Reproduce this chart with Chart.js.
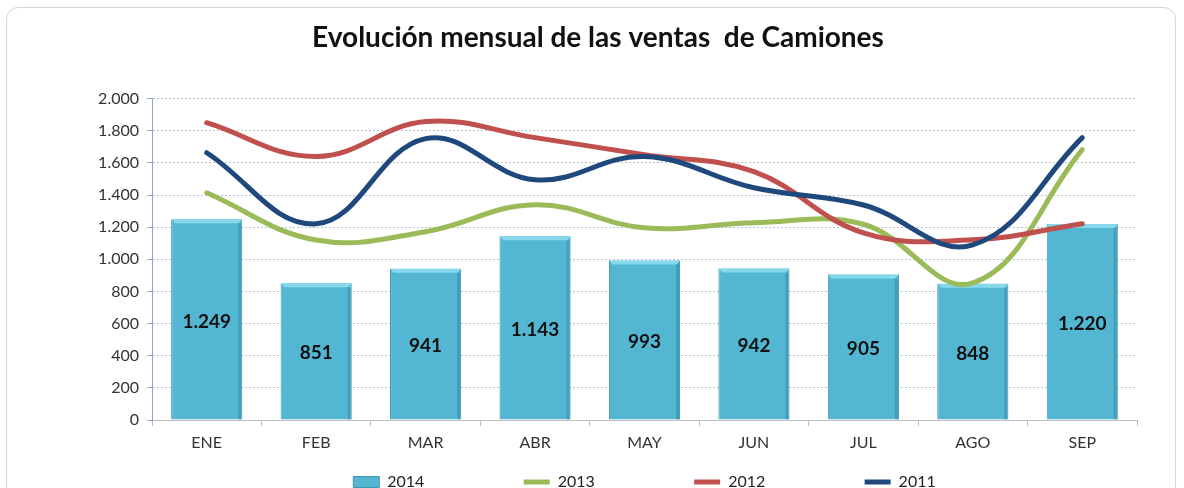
<!DOCTYPE html>
<html>
<head>
<meta charset="utf-8">
<script src="https://cdn.jsdelivr.net/npm/chart.js"></script>
<style>
  html, body { margin: 0; padding: 0; background: #fff; overflow: hidden; }
  #card {
    position: absolute; left: 6px; top: 7px; width: 1170px; height: 540px;
    border: 1px solid #d6d6d6; border-radius: 12px; box-sizing: border-box;
  }
  #wrap { position: absolute; left: 0; top: 0; width: 1184px; height: 500px; }
</style>
</head>
<body>
<div id="card"></div>
<div id="wrap"><canvas id="chart"></canvas></div>
<script>
const months = ["ENE", "FEB", "MAR", "ABR", "MAY", "JUN", "JUL", "AGO", "SEP"];
const ventas2014 = [1249, 851, 941, 1143, 993, 942, 905, 848, 1220];
const ventas2013 = [1414, 1120, 1172, 1340, 1196, 1227, 1218, 853, 1682];
const ventas2012 = [1850, 1640, 1857, 1757, 1651, 1545, 1165, 1121, 1221];
const ventas2011 = [1663, 1221, 1751, 1495, 1639, 1445, 1338, 1090, 1757];
const yTicks = [0, 200, 400, 600, 800, 1000, 1200, 1400, 1600, 1800, 2000];

const FONT = "Lato, 'Open Sans', sans-serif";

function miles(v) {
  return String(v).replace(/\B(?=(\d{3})+(?!\d))/g, ".");
}

// light bevel on top of each bar, drawn before the lines
const barBevel = {
  id: "barBevel",
  afterDatasetDraw(chart, args) {
    if (args.index !== 0) return;
    const ctx = chart.ctx;
    ctx.save();
    args.meta.data.forEach(bar => {
      const half = bar.width / 2;
      ctx.fillStyle = "#86d9ec";
      ctx.beginPath();
      ctx.moveTo(bar.x - half, bar.y);
      ctx.lineTo(bar.x + half, bar.y);
      ctx.lineTo(bar.x + half - 4, bar.y + 4);
      ctx.lineTo(bar.x - half + 4, bar.y + 4);
      ctx.closePath();
      ctx.fill();
      ctx.fillStyle = "rgba(40,110,135,0.35)";
      ctx.fillRect(bar.x + half - 4, bar.y + 4, 3, bar.base - bar.y - 4);
    });
    ctx.restore();
  }
};

// numbers inside the bars
const barLabels = {
  id: "barLabels",
  afterDatasetsDraw(chart) {
    const meta = chart.getDatasetMeta(0);
    const ctx = chart.ctx;
    ctx.save();
    ctx.font = "bold 19px " + FONT;
    ctx.fillStyle = "#111";
    ctx.textAlign = "center";
    ctx.textBaseline = "middle";
    meta.data.forEach((bar, i) => {
      const mid = (bar.y + bar.base) / 2;
      ctx.fillText(miles(ventas2014[i]), bar.x, mid + 2);
    });
    ctx.restore();
  }
};

// legend sits centred under the plot, not the canvas
const legendShift = {
  id: "legendShift",
  afterLayout(chart) {
    const lg = chart.legend;
    const d = (chart.chartArea.left + chart.chartArea.right) / 2 - (lg.left + lg.right) / 2;
    lg.left += d;
    lg.right += d;
  }
};

function lineSet(label, data, color, order) {
  return {
    type: "line",
    label: label,
    data: data,
    borderColor: color,
    backgroundColor: color,
    borderWidth: 5,
    borderCapStyle: "round",
    tension: 0.4,
    pointRadius: 0,
    pointStyle: "line",
    fill: false,
    order: order
  };
}

const pad = "\u2003\u2003\u2003\u2003\u2003\u2003\u2003\u2004";

new Chart(document.getElementById("chart"), {
  type: "bar",
  data: {
    labels: months,
    datasets: [
      {
        label: "2014",
        data: ventas2014,
        backgroundColor: "#53B7D3",
        borderColor: "#3F96AE",
        borderWidth: 1,
        barPercentage: 0.65,
        categoryPercentage: 1,
        pointStyle: "rect",
        order: 4
      },
      lineSet("2013", ventas2013, "#9BBB59", 3),
      lineSet("2012", ventas2012, "#C0504D", 2),
      lineSet("2011", ventas2011, "#1F497D", 1)
    ]
  },
  options: {
    responsive: true,
    maintainAspectRatio: false,
    animation: false,
    layout: { padding: { left: 59, right: 47, top: 0, bottom: 0 } },
    plugins: {
      title: {
        display: true,
        text: "Evolución mensual de las ventas  de Camiones",
        color: "#111",
        font: { family: FONT, size: 28, weight: "bold" },
        padding: { top: 21, bottom: 44 }
      },
      legend: {
        position: "bottom",
        labels: {
          usePointStyle: true,
          pointStyleWidth: 26,
          boxHeight: 11,
          padding: 10,
          color: "#222",
          font: { family: FONT, size: 16 },
          sort: (a, b) => a.datasetIndex - b.datasetIndex,
          generateLabels(chart) {
            const items = Chart.defaults.plugins.legend.labels.generateLabels(chart);
            items.forEach(it => { if (it.datasetIndex !== 3) it.text = it.text + pad; });
            return items;
          }
        }
      },
      tooltip: { enabled: false }
    },
    scales: {
      x: {
        offset: true,
        afterFit(scale) { scale.height = 44; },
        grid: { drawOnChartArea: false, drawTicks: true, tickLength: 6, color: "#bfbfbf", offset: true },
        border: { color: "#bfbfbf" },
        ticks: { color: "#333", font: { family: FONT, size: 16 }, padding: 7 }
      },
      y: {
        min: 0,
        max: 2000,
        afterFit(scale) { scale.width = 93; },
        afterBuildTicks(scale) { scale.ticks = yTicks.map(v => ({ value: v })); },
        grid: { color: "#b8c2d0", tickLength: 5, tickColor: "#8fa6c6" },
        border: { display: true, dash: [2, 2], color: "#8fa6c6" },
        ticks: {
          color: "#333",
          font: { family: FONT, size: 16 },
          padding: 8,
          callback: v => miles(v)
        }
      }
    }
  },
  plugins: [barBevel, barLabels, legendShift, {
    id: "dottedGrid",
    beforeDraw(chart) {
      chart.options.scales.y.grid.borderDash = [2, 2];
    }
  }]
});
</script>
</body>
</html>
